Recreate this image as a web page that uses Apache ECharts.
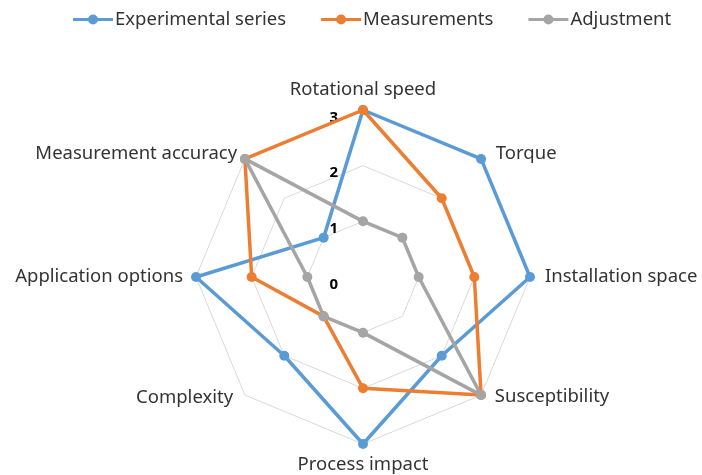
<!DOCTYPE html>
<html><head><meta charset="utf-8">
<script src="https://cdn.jsdelivr.net/npm/echarts@6/dist/echarts.min.js"></script>
<style>html,body{margin:0;padding:0;background:#fff}#c{width:702px;height:475px}</style>
</head><body><div id="c"></div>
<script>
const categories = ['Rotational speed','Torque','Installation space','Susceptibility','Process impact','Complexity','Application options','Measurement accuracy'];
const experimentalSeries = [3,3,3,2,3,2,3,1];
const measurements = [3,2,2,3,2,1,2,3];
const adjustment = [1,1,1,3,1,1,1,3];
const tickLabels = ['0','1','2','3'];
const seriesNames = ['Experimental series','Measurements','Adjustment'];
const colors = ['#5B9BD5','#ED7D31','#A5A5A5'];

// ECharts lays radar indicators counter-clockwise; reorder so they run clockwise.
const order = categories.map((_, i) => (categories.length - i) % categories.length);
const reorder = arr => order.map(i => arr[i]);

const indicator = order.map((i, k) => {
  const ind = { name: categories[i], min: 0, max: 3 };
  if (k === 0) ind.axisLabel = { show: true };
  return ind;
});

const font = 'Noto Sans';
const textColor = '#333333';
const legendIcon = 'path://M0,3.5h40v3h-40z M15,5a5,5 0 1,1 10,0a5,5 0 1,1 -10,0z';

// label nudges per clockwise position (style only)
const nameStyleKeys = ['n0','n1','n2','n3','n4','n5','n6','n7'];
const nameRich = {
  n0: { padding: [0, 0, 0, 0] },
  n1: { padding: [6, 0, 0, 7] },
  n2: { padding: [0, 0, 0, 4] },
  n3: { padding: [0, 0, 12, 6] },
  n4: { padding: [0, 0, 0, 0] },
  n5: { padding: [0, 4, 10, 0] },
  n6: { padding: [0, 2, 0, 0] },
  n7: { padding: [6, 0, 0, 0] }
};
Object.values(nameRich).forEach(s => { s.fontFamily = font; s.fontSize = 18.5; s.color = textColor; });

const chart = echarts.init(document.getElementById('c'));
const valueSets = [experimentalSeries, measurements, adjustment];
chart.setOption({
  animation: false,
  color: colors,
  legend: {
    top: 5, left: 68,
    itemWidth: 40, itemHeight: 10, itemGap: 35,
    textStyle: { fontFamily: font, fontSize: 18.5, color: textColor, padding: [0, 0, 0, -3] },
    data: seriesNames.map((n, i) => ({ name: n, icon: legendIcon, itemStyle: { color: colors[i], borderWidth: 0 } }))
  },
  radar: {
    center: [363, 277],
    radius: 167,
    startAngle: 90,
    splitNumber: 3,
    shape: 'polygon',
    indicator: indicator,
    axisName: {
      fontFamily: font, fontSize: 18.5, color: textColor,
      formatter: name => '{' + nameStyleKeys[categories.indexOf(name)] + '|' + name + '}',
      rich: nameRich
    },
    nameGap: 11,
    axisLine: { show: false },
    axisTick: { show: false },
    splitArea: { show: false },
    splitLine: { lineStyle: { color: '#d9d9d9', width: 1 } },
    axisLabel: {
      show: false, fontFamily: font, fontSize: 15, fontWeight: 'bold', color: '#000',
      margin: 25, verticalAlign: 'top',
      formatter: v => tickLabels[Math.round(v)] ?? ''
    }
  },
  series: seriesNames.map((n, i) => ({
    type: 'radar',
    name: n,
    symbol: 'circle', symbolSize: 10,
    itemStyle: { color: colors[i] },
    lineStyle: { color: colors[i], width: 3.5 },
    data: [{ name: n, value: reorder(valueSets[i]) }]
  }))
});
</script></body></html>
